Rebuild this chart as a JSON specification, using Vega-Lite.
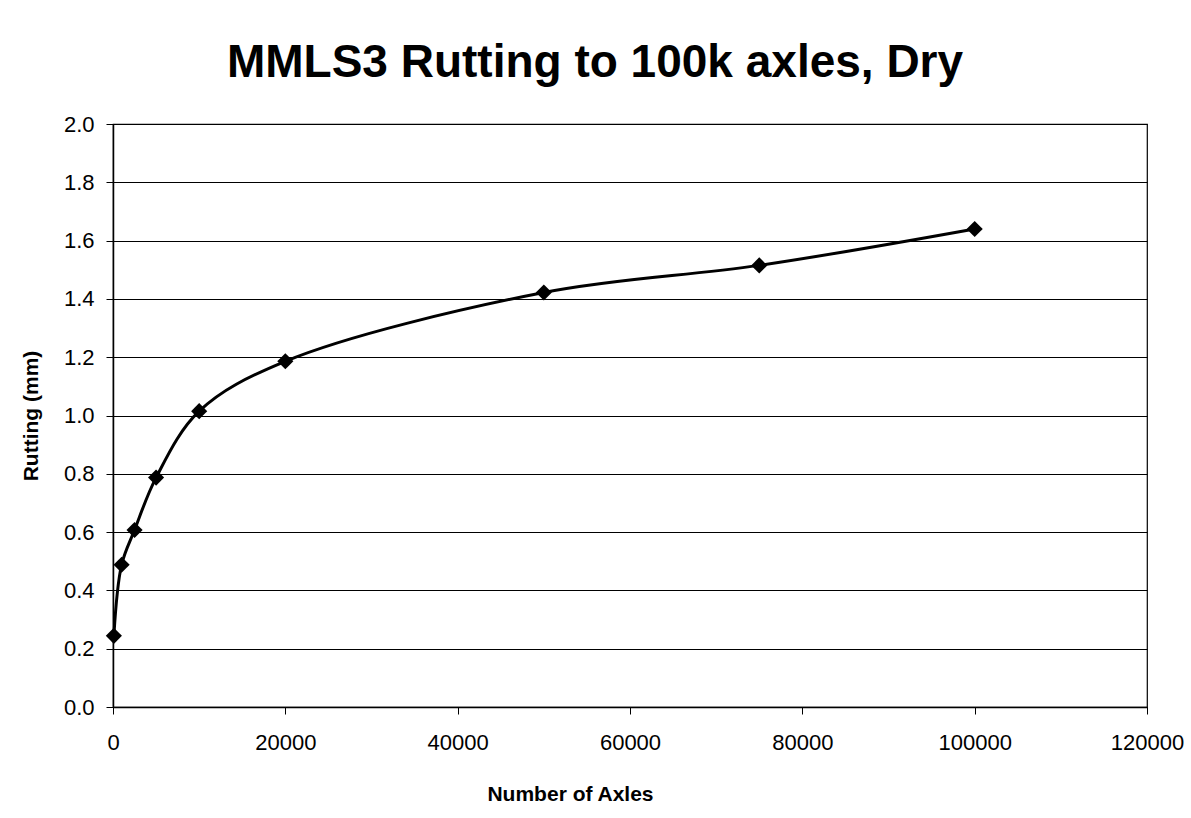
{
  "$schema": "https://vega.github.io/schema/vega-lite/v6.json",
  "width": 1034,
  "height": 583,
  "autosize": {"type": "none"},
  "padding": {"left": 113, "top": 124, "right": 44, "bottom": 111},
  "background": "white",
  "title": {
    "text": "MMLS3 Rutting to 100k axles, Dry",
    "font": "Liberation Sans",
    "fontSize": 46,
    "fontWeight": "bold",
    "color": "black",
    "anchor": "middle",
    "offset": 26,
    "dx": -35
  },
  "data": {
    "values": [
      {"axles": 100, "rutting": 0.244},
      {"axles": 1000, "rutting": 0.488},
      {"axles": 2500, "rutting": 0.607},
      {"axles": 5000, "rutting": 0.787},
      {"axles": 10000, "rutting": 1.015},
      {"axles": 20000, "rutting": 1.186},
      {"axles": 50000, "rutting": 1.422},
      {"axles": 75000, "rutting": 1.515},
      {"axles": 100000, "rutting": 1.64}
    ]
  },
  "encoding": {
    "x": {
      "field": "axles",
      "type": "quantitative",
      "scale": {"domain": [0, 120000], "nice": false},
      "axis": {
        "title": "Number of Axles",
        "values": [0, 20000, 40000, 60000, 80000, 100000, 120000],
        "format": "d",
        "grid": false,
        "domainColor": "black",
        "domainWidth": 1.5,
        "tickColor": "black",
        "tickSize": 7,
        "labelFont": "Liberation Sans",
        "labelFontSize": 22,
        "labelColor": "black",
        "labelPadding": 18,
        "labelFlush": false,
        "titleFont": "Liberation Sans",
        "titleFontSize": 21,
        "titleFontWeight": "bold",
        "titleColor": "black",
        "titlePadding": 30,
        "titleX": 457
      }
    },
    "y": {
      "field": "rutting",
      "type": "quantitative",
      "scale": {"domain": [0, 2], "nice": false},
      "axis": {
        "title": "Rutting (mm)",
        "values": [0, 0.2, 0.4, 0.6, 0.8, 1.0, 1.2, 1.4, 1.6, 1.8, 2.0],
        "format": ".1f",
        "grid": true,
        "gridColor": "black",
        "gridWidth": 1.2,
        "gridOpacity": 1,
        "domainColor": "black",
        "domainWidth": 1.5,
        "tickColor": "black",
        "tickSize": 7,
        "labelFont": "Liberation Sans",
        "labelFontSize": 22,
        "labelColor": "black",
        "labelPadding": 12,
        "labelFlush": false,
        "titleFont": "Liberation Sans",
        "titleFontSize": 21,
        "titleFontWeight": "bold",
        "titleColor": "black",
        "titlePadding": 22
      }
    }
  },
  "layer": [
    {
      "mark": {"type": "line", "color": "black", "strokeWidth": 3, "interpolate": "catmull-rom"}
    },
    {
      "mark": {"type": "point", "shape": "diamond", "filled": true, "color": "black", "opacity": 1, "size": 260}
    }
  ],
  "config": {
    "view": {"stroke": "black", "strokeWidth": 1.2}
  }
}
